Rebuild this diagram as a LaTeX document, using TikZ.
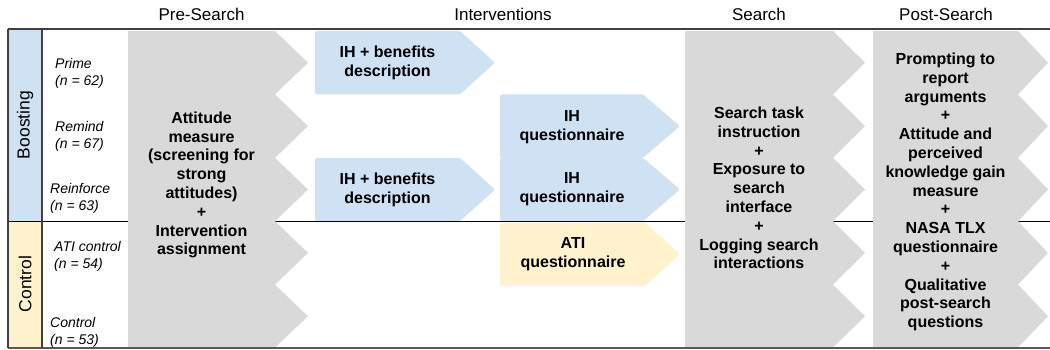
\documentclass[tikz,border=0pt]{standalone}
\usepackage{fontspec}
\setmainfont{Liberation Sans}
\definecolor{lblue}{RGB}{207,226,243}
\definecolor{lyellow}{RGB}{255,242,204}
\definecolor{lgrey}{RGB}{217,217,217}
\definecolor{ruleA}{RGB}{64,64,64}
\definecolor{ruleB}{RGB}{89,89,89}
\tikzset{
  hdr/.style={font=\fontsize{17}{20}\selectfont, anchor=base, inner sep=0pt},
  body/.style={font=\fontsize{16}{18.8}\selectfont\bfseries, align=center, inner sep=0pt},
  rowlab/.style={font=\fontsize{14}{17}\selectfont\itshape, align=left, anchor=west, inner sep=0pt},
  side/.style={font=\fontsize{17.5}{20}\selectfont, rotate=90, inner sep=0pt},
  tablerule/.style={draw=ruleA, line width=1.4pt},
}
\newcommand\homeplate[6]{\fill[#1, rounded corners=1.5pt] (#2,#5) -- (#3,#5) -- (#4,{(#5+#6)/2}) -- (#3,#6) -- (#2,#6) -- cycle;}
\newcommand\greycol[3]{\fill[lgrey] (#1,31) -- (#2,31) -- (#3,62.7) -- (#2,94.4) -- (#3,126.1) -- (#2,157.8) -- (#3,189.5) -- (#2,221.2) -- (#3,252.9) -- (#2,284.6) -- (#3,316.3) -- (#2,347.5) -- (#1,347.5) -- cycle;}
\begin{document}
\begin{tikzpicture}[x=1pt,y=-1pt]
\useasboundingbox (0,0) rectangle (1050,350);
% side label fills
\fill[lblue] (8,29) rectangle (42,221.2);
\fill[lyellow] (8,221.2) rectangle (42,348);
% blue / yellow intervention boxes
\homeplate{lblue}{315}{460}{495}{31}{94.4}
\homeplate{lblue}{315}{460}{495}{157.8}{221.2}
\homeplate{lblue}{500}{643}{680}{94.4}{157.8}
\homeplate{lblue}{500}{643}{680}{157.8}{221.2}
\homeplate{lyellow}{500}{645}{680}{222.5}{286}
% middle rule
\draw[draw=black, line width=1.3pt] (8,221.2) -- (1050,221.2);
% grey columns
\greycol{128}{275}{308}
\greycol{685}{833}{865}
\greycol{873}{1018}{1048}
% table rules
\draw[tablerule] (8,29) -- (1050,29);
\draw[draw=ruleB, line width=2.2pt] (8,348) -- (1050,348);
\draw[tablerule] (8,29) -- (8,348);
\draw[tablerule] (42,29) -- (42,348);
% headers
\node[hdr] (hpre) at (201.5,20.5) {Pre-Search};
\node[hdr] (hint) at (503,20.5) {Interventions};
\node[hdr] (hsea) at (759,20.5) {Search};
\node[hdr] (hpost) at (946,20.5) {Post-Search};
% side labels
\node[side] (boost) at (25,125) {Boosting};
\node[side] (ctrl) at (25,284) {Control};
% row labels
\node[rowlab] (lprime) at (55,73) {Prime\\(n = 62)};
\node[rowlab] (lremind) at (55,136.5) {Remind\\(n = 67)};
\node[rowlab] (lreinf) at (50,198) {Reinforce\\(n = 63)};
\node[rowlab] (lati) at (54,256) {ATI control\\(n = 54)};
\node[rowlab] (lctrl) at (50,332) {Control\\(n = 53)};
% grey texts
\node[body] (tpre) at (201.5,185) {Attitude\\measure\\(screening for\\strong\\attitudes)\\+\\Intervention\\assignment};
\node[body] (tsea) at (759,188) {Search task\\instruction\\+\\Exposure to\\search\\interface\\+\\Logging search\\interactions};
\node[body] (tpost) at (945.5,192) {Prompting to\\report\\arguments\\+\\Attitude and\\perceived\\knowledge gain\\measure\\+\\NASA TLX\\questionnaire\\+\\Qualitative\\post-search\\questions};
% box texts
\node[body] (tb1) at (387.5,63) {IH + benefits\\description};
\node[body] (tb2) at (387.5,189.5) {IH + benefits\\description};
\node[body] (tq1) at (572,127) {IH\\questionnaire};
\node[body] (tq2) at (572,189.5) {IH\\questionnaire};
\node[body] (tati) at (573,254) {ATI\\questionnaire};
\end{tikzpicture}
\end{document}
